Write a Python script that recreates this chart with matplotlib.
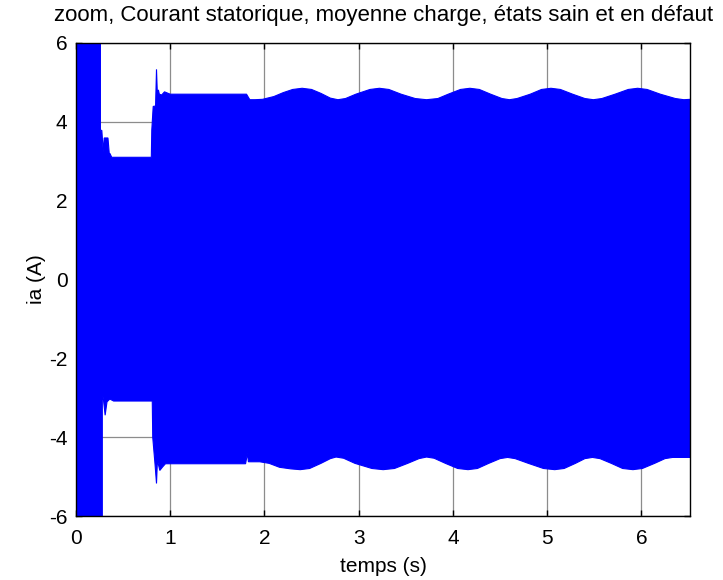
import numpy as np
import matplotlib
matplotlib.use('Agg')
import matplotlib.pyplot as plt

plt.rcParams['font.family'] = ['Liberation Sans', 'DejaVu Sans']
plt.rcParams['axes.unicode_minus'] = False

# envelope of the stator current ia (A)
t_upper = [0.0, 0.26, 0.26, 0.275, 0.29, 0.30, 0.34, 0.355, 0.36, 0.38, 0.40,
           0.80, 0.805, 0.82, 0.845, 0.855, 0.865, 0.875, 0.885, 0.91, 0.94,
           1.00, 1.81, 1.845, 1.90, 1.98, 2.10, 2.20, 2.30, 2.40, 2.50,
           2.60, 2.70, 2.78, 2.86, 2.97, 3.12, 3.22, 3.32, 3.45, 3.60,
           3.72, 3.84, 3.95, 4.08, 4.18, 4.28, 4.40, 4.52, 4.60, 4.68,
           4.82, 4.94, 5.04, 5.14, 5.27, 5.40, 5.49, 5.58, 5.72, 5.86,
           5.96, 6.06, 6.20, 6.36, 6.45, 6.52]
ia_upper = [8.0, 8.0, 3.79, 3.78, 3.24, 3.59, 3.59, 3.16, 3.20, 3.10, 3.10,
            3.10, 3.79, 4.39, 4.40, 5.33, 4.64, 4.81, 4.70, 4.68, 4.76,
            4.70, 4.70, 4.56, 4.56, 4.57, 4.64, 4.74, 4.82, 4.85, 4.82,
            4.72, 4.60, 4.56, 4.59, 4.70, 4.82, 4.85, 4.82, 4.70, 4.59,
            4.56, 4.59, 4.70, 4.82, 4.85, 4.82, 4.70, 4.59, 4.56, 4.59,
            4.70, 4.82, 4.85, 4.82, 4.70, 4.59, 4.56, 4.59, 4.70, 4.82,
            4.85, 4.82, 4.70, 4.59, 4.56, 4.57]

t_lower = [0.0, 0.28, 0.28, 0.29, 0.31, 0.33, 0.36, 0.40, 0.81, 0.815,
           0.84, 0.855, 0.865, 0.89, 0.92, 0.95, 1.80, 1.82, 1.83, 1.95,
           2.05, 2.16, 2.28, 2.38, 2.48, 2.60, 2.70, 2.76, 2.84, 2.96,
           3.14, 3.26, 3.38, 3.52, 3.64, 3.72, 3.80, 3.92, 4.05, 4.16,
           4.26, 4.38, 4.50, 4.58, 4.66, 4.80, 4.96, 5.08, 5.18, 5.30,
           5.40, 5.48, 5.56, 5.68, 5.80, 5.91, 6.01, 6.14, 6.25, 6.33,
           6.52]
ia_lower = [-8.0, -8.0, -2.97, -3.00, -3.44, -3.10, -3.03, -3.08, -3.08,
            -4.00, -4.70, -5.17, -4.58, -4.84, -4.75, -4.67, -4.67, -4.41,
            -4.62, -4.62, -4.66, -4.76, -4.80, -4.82, -4.79, -4.66, -4.54,
            -4.50, -4.53, -4.66, -4.79, -4.82, -4.79, -4.66, -4.54, -4.50,
            -4.53, -4.66, -4.79, -4.82, -4.79, -4.66, -4.54, -4.51, -4.54,
            -4.66, -4.79, -4.82, -4.79, -4.66, -4.54, -4.51, -4.54, -4.66,
            -4.79, -4.82, -4.79, -4.66, -4.54, -4.51, -4.51]

fig = plt.figure(figsize=(7.23, 5.8), dpi=100)
ax = fig.add_axes([0.105, 0.110, 0.850, 0.816])

ax.fill(np.concatenate([t_upper, t_lower[::-1]]),
        np.concatenate([ia_upper, ia_lower[::-1]]),
        color='#0000ff', lw=0.8, zorder=2)

ax.set_xlim(0, 6.52)
ax.set_ylim(-6, 6)
ax.set_xticks(range(0, 7))
ax.set_yticks(range(-6, 7, 2))
ax.set_axisbelow(True)
ax.grid(True, color='#8c8c8c', lw=0.9)
ax.tick_params(direction='in', top=True, right=True, length=4, width=1,
               labelsize=15, colors='black')
ax.tick_params(axis='x', pad=9)
ax.tick_params(axis='y', pad=6)
for s in ax.spines.values():
    s.set_linewidth(1.0)
    s.set_zorder(5)

ax.set_xlabel('temps (s)', fontsize=15, labelpad=7)
ax.set_ylabel('ia (A)', fontsize=15, labelpad=2)
ax.set_title('zoom, Courant statorique, moyenne charge, états sain et en défaut',
             fontsize=16, pad=16)

fig.savefig('out.png', dpi=100)
